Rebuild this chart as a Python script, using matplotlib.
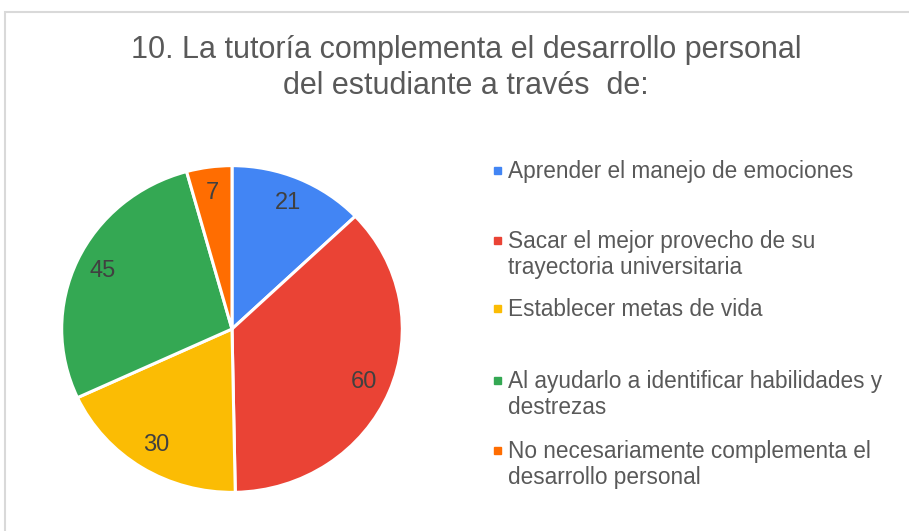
import matplotlib.pyplot as plt
from matplotlib.patches import Rectangle

plt.rcParams['font.family'] = ['Liberation Sans', 'DejaVu Sans']

# datos
categorias = [
    "Aprender el manejo de emociones",
    "Sacar el mejor provecho de su\ntrayectoria universitaria",
    "Establecer metas de vida",
    "Al ayudarlo a identificar habilidades y\ndestrezas",
    "No necesariamente complementa el\ndesarrollo personal",
]
valores = [21, 60, 30, 45, 7]
colores = ["#4285F4", "#EA4335", "#FBBC04", "#34A853", "#FF6D01"]

W, H = 909, 531
fig = plt.figure(figsize=(W / 100, H / 100), dpi=100)

# marco gris claro
fig.patches.append(Rectangle((5 / W, -0.05), 1.1, 1 - 12 / H + 0.05,
                             transform=fig.transFigure, fill=False,
                             edgecolor="#d9d9d9", linewidth=1.5))

# titulo
fig.text(466 / W, 1 - 50 / H, "10. La tutoría complementa el desarrollo personal",
         ha="center", va="center", fontsize=22, color="#595959")
fig.text(466 / W, 1 - 86 / H, "del estudiante a través  de:",
         ha="center", va="center", fontsize=22, color="#595959")

# pastel (ligeramente mas ancho que alto, como en el original)
cx, cy, rx, ry = 232, 329, 172, 165
ax = fig.add_axes([(cx - rx) / W, (H - cy - ry) / H, 2 * rx / W, 2 * ry / H])
wedges, textos = ax.pie(valores, colors=colores, startangle=90, counterclock=False,
                        labels=[str(v) for v in valores], labeldistance=0.84,
                        wedgeprops=dict(edgecolor="white", linewidth=2.2),
                        textprops=dict(fontsize=17, color="#404040"))
for t in textos:
    t.set_ha("center")
    t.set_va("center")
ax.set_xlim(-1.01, 1.01)
ax.set_ylim(-1.01, 1.01)
ax.set_aspect("auto")
ax.axis("off")

# leyenda manual
ys = [170, 240, 308, 380, 450]
for cat, col, y in zip(categorias, colores, ys):
    fig.patches.append(Rectangle((494 / W, 1 - (y + 4) / H), 7 / W, 7 / H,
                                 transform=fig.transFigure, color=col))
    fig.text(508 / W, 1 - (y - 10) / H, cat, ha="left", va="top",
             fontsize=16.3, color="#595959", linespacing=1.15)

fig.savefig("out.png", dpi=100)
